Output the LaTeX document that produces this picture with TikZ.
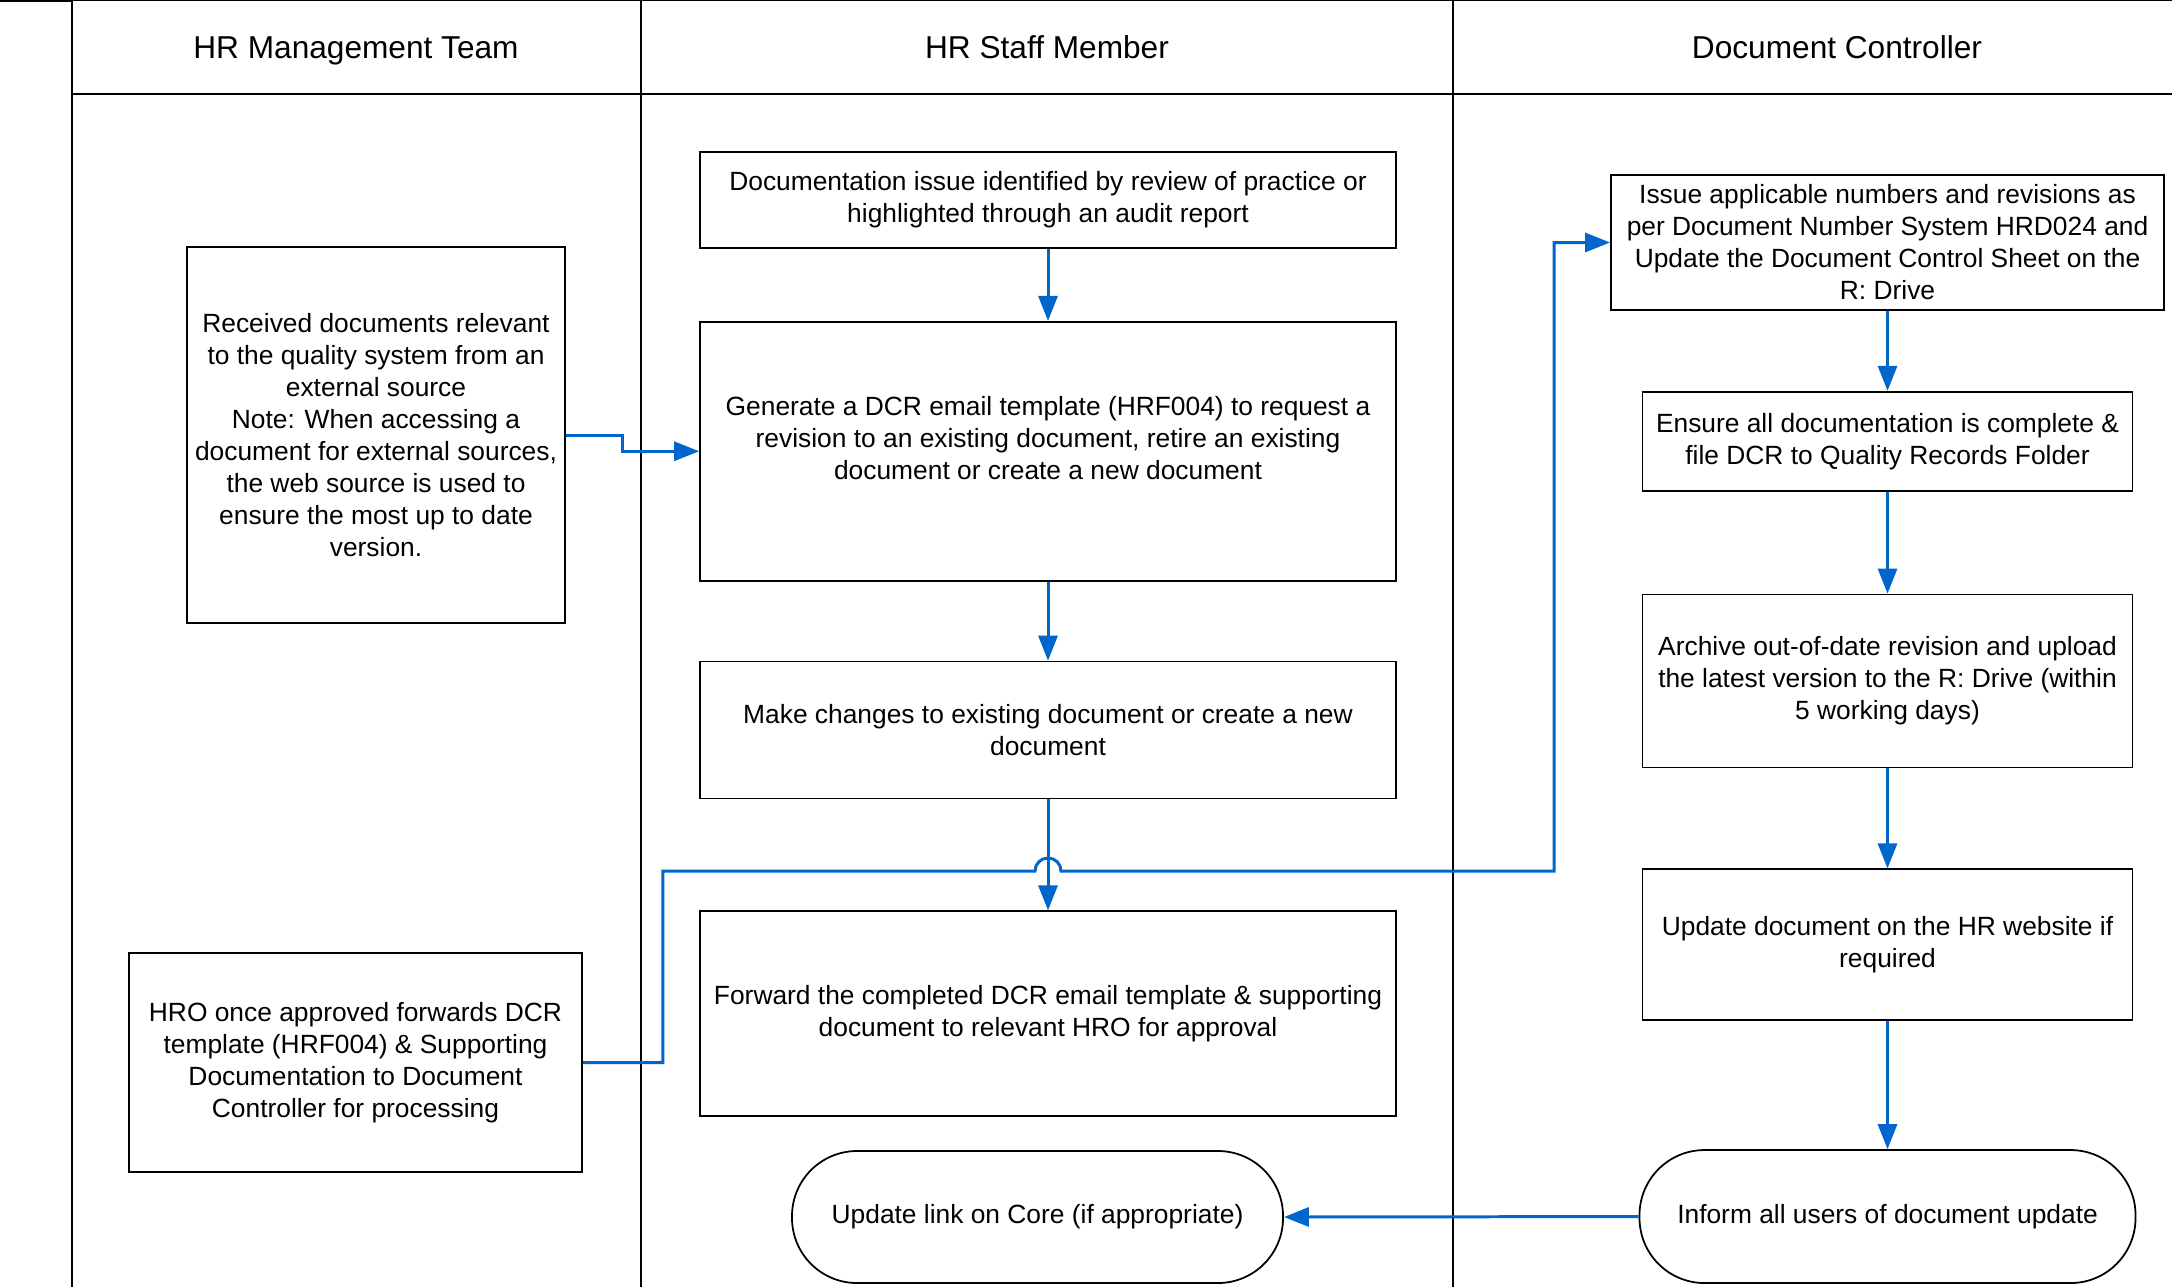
\documentclass[tikz,border=0pt]{standalone}
\usepackage{fontspec}
\setmainfont{Liberation Sans}
\usepackage{xcolor}
\usepackage{tikz}
\usetikzlibrary{arrows.meta,positioning}

\definecolor{flowblue}{RGB}{0,102,204}

\begin{document}
\begin{tikzpicture}[>={Triangle[length=0.25cm,width=0.19cm]}]
\tikzstyle{box}=[rectangle,draw=black,line width=0.5pt,align=center,inner sep=1pt,font=\fontsize{7.5}{9.1}\selectfont]
\tikzstyle{term}=[box,rounded corners=0.65cm]
\tikzstyle{lane}=[font=\fontsize{9}{11}\selectfont,text height=7pt,text depth=2pt]
\tikzstyle{flow}=[->,draw=flowblue,line width=0.85pt]
\useasboundingbox (0,0) rectangle (21.72,-12.87);

% swimlanes
\draw[line width=1.2pt] (0,0) -- (0.72,0);
\draw[line width=0.5pt] (0.72,0) -- (21.72,0);
\draw[line width=0.5pt] (0.72,-0.94) -- (21.72,-0.94);
\draw[line width=0.6pt] (0.72,0) -- (0.72,-12.87);
\draw[line width=0.6pt] (6.41,0) -- (6.41,-12.87);
\draw[line width=0.6pt] (14.53,0) -- (14.53,-12.87);
\node[lane] (mgmt) at (3.56,-0.50) {HR Management Team};
\node[lane] (staff) at (10.47,-0.50) {HR Staff Member};
\node[lane] (ctrl) at (18.37,-0.50) {Document Controller};

% HR staff member
\node[box,minimum width=6.96cm,minimum height=0.96cm] (issue) at (10.48,-2.00) {Documentation issue identified by review of practice or\\highlighted through an audit report};
\node[box,minimum width=6.96cm,minimum height=2.59cm,below=0.72cm of issue] (dcr) {Generate a DCR email template (HRF004) to request a\\revision to an existing document, retire an existing\\document or create a new document\\[-0.06cm]};
\node[box,minimum width=6.96cm,minimum height=1.37cm,below=0.79cm of dcr] (changes) {Make changes to existing document or create a new\\document};
\node[box,minimum width=6.96cm,minimum height=2.05cm,below=1.11cm of changes] (forward) {Forward the completed DCR email template \& supporting\\document to relevant HRO for approval};
\node[term,minimum width=4.91cm,minimum height=1.32cm] (core) at (10.375,-12.17) {Update link on Core (if appropriate)};

% HR management team
\node[box,minimum width=3.78cm,minimum height=3.76cm] (external) at (3.76,-4.35) {Received documents relevant\\to the quality system from an\\external source\\Note: When accessing a\\document for external sources,\\the web source is used to\\ensure the most up to date\\version.};
\node[box,minimum width=4.53cm,minimum height=2.19cm] (hro) at (3.555,-10.625) {HRO once approved forwards DCR\\template (HRF004) \& Supporting\\Documentation to Document\\Controller for processing};

% document controller
\node[box,minimum width=5.53cm,minimum height=1.35cm] (issuenum) at (18.875,-2.425) {Issue applicable numbers and revisions as\\per Document Number System HRD024 and\\Update the Document Control Sheet on the\\R: Drive};
\node[box,minimum width=4.90cm,minimum height=0.99cm,below=0.80cm of issuenum] (ensure) {Ensure all documentation is complete \&\\file DCR to Quality Records Folder};
\node[box,minimum width=4.90cm,minimum height=1.73cm,below=1.02cm of ensure] (archive) {Archive out-of-date revision and upload\\the latest version to the R: Drive (within\\5 working days)};
\node[box,minimum width=4.90cm,minimum height=1.51cm,below=1.00cm of archive] (website) {Update document on the HR website if\\required};
\node[term,minimum width=4.96cm,minimum height=1.33cm,below=1.28cm of website] (inform) {Inform all users of document update};

\coordinate (hopL) at (10.35,-8.71);
\coordinate (bend) at (15.54,-8.71);

\draw[flow] (issue) -- (dcr);
\draw[flow] (external.east) -- ++(0.57,0) |- (dcr.west);
\draw[flow] (dcr) -- (changes);
\draw[flow] (changes) -- (forward);
\draw[flow] (hro.east) -- ++(0.80,0) |- (hopL) arc[start angle=180,end angle=0,radius=0.13cm] -- (bend) |- (issuenum.west);
\draw[flow] (issuenum) -- (ensure);
\draw[flow] (ensure) -- (archive);
\draw[flow] (archive) -- (website);
\draw[flow] (website) -- (inform);
\draw[flow] (inform.west) -- (core.east);
\end{tikzpicture}
\end{document}
